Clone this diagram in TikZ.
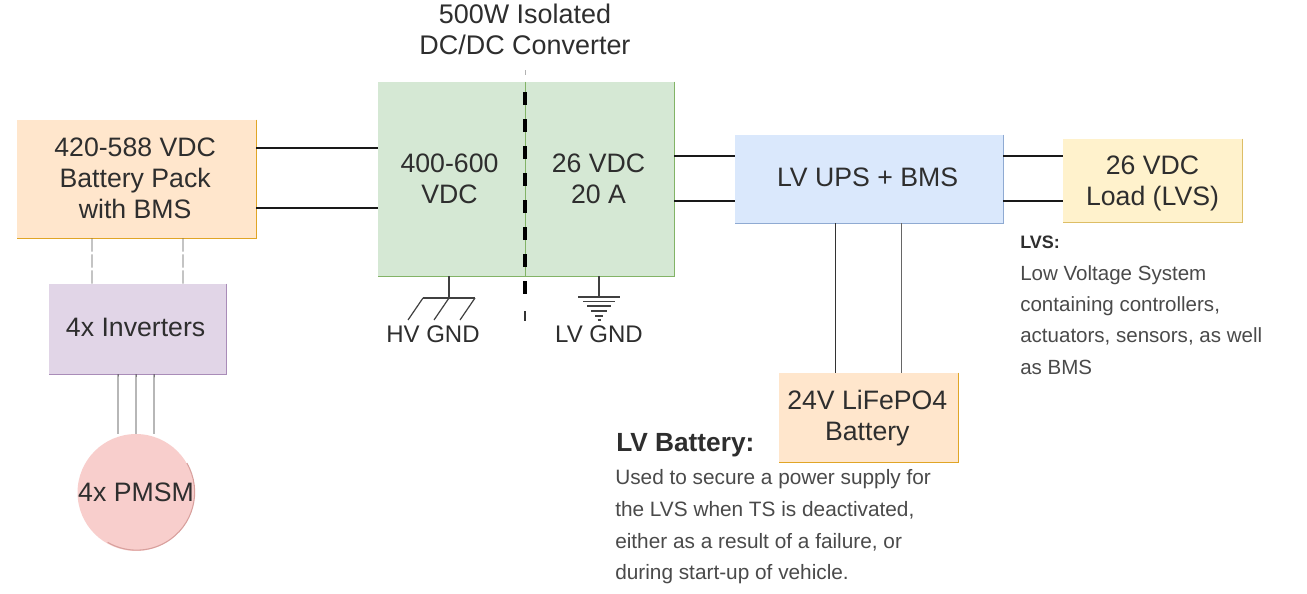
\documentclass[tikz,border=0pt]{standalone}
\usepackage{fontspec}
\setmainfont{Liberation Sans}
\definecolor{ink}{HTML}{2E2E2E}
\definecolor{note}{HTML}{4A4A4A}
\definecolor{orangefill}{HTML}{FFE6CC}
\definecolor{orangeline}{HTML}{E0A526}
\definecolor{greenfill}{HTML}{D5E8D4}
\definecolor{greenline}{HTML}{82B366}
\definecolor{bluefill}{HTML}{DAE8FC}
\definecolor{blueline}{HTML}{8FAAD2}
\definecolor{yellowfill}{HTML}{FFF2CC}
\definecolor{yellowline}{HTML}{DDBE66}
\definecolor{purplefill}{HTML}{E1D5E7}
\definecolor{purpleline}{HTML}{A98CB8}
\definecolor{redfill}{HTML}{F8CECC}
\definecolor{redline}{HTML}{D8A09D}
\newcommand{\shiftedtext}[3]{\raisebox{#2}[\height][\depth]{\kern#1\begin{tabular}{@{}c@{}}#3\end{tabular}\kern-#1}}
\newcommand{\edgesof}[2]{\draw[#2,line width=1pt] (#1.north east) -- (#1.south east) -- (#1.south west);}
\tikzset{
  x=0.75pt,y=-0.75pt,
  box/.style={fill=#1,inner sep=0pt,text=ink,font=\fontsize{20}{23.25}\selectfont},
  conn/.style={draw=black!90,line width=1pt},
  thinconn/.style={draw=black!80,line width=0.7pt},
  faint/.style={draw=black!65,line width=0.6pt,dash pattern=on 10pt off 2pt},
  gnd/.style={draw=black!75,line width=0.9pt},
  lab/.style={text=ink,font=\fontsize{18}{22}\selectfont,inner sep=0pt},
  smalltxt/.style={text=note,align=left,inner sep=0pt,anchor=north west,font=\fontsize{15.4}{23.5}\selectfont},
}
\begin{document}
\begin{tikzpicture}
\useasboundingbox[fill=white] (0,0) rectangle (1307,593);
% boxes
\node[box=orangefill,minimum width=179.25pt,minimum height=88.5pt] (bat) at (136.5,179) {\shiftedtext{-1pt}{-1.5pt}{420-588 VDC\\Battery Pack\\with BMS}};
\node[box=purplefill,minimum width=132.75pt,minimum height=67.5pt] (inv) at (137.5,329) {\shiftedtext{-1.4pt}{-0.7pt}{4x Inverters}};
\node[circle,fill=redfill,minimum size=87pt,inner sep=0pt,text=ink,font=\fontsize{20}{23.25}\selectfont] (pmsm) at (136,492.5) {4x PMSM};
\node[box=greenfill,minimum width=110.25pt,minimum height=145.5pt] (hv) at (451.5,179) {\shiftedtext{-1.5pt}{-2.2pt}{400-600\\VDC}};
\node[box=greenfill,minimum width=111.75pt,minimum height=145.5pt] (lv) at (599.5,179) {\shiftedtext{-0.7pt}{-2.2pt}{26 VDC\\20 A}};
\node[box=bluefill,minimum width=201pt,minimum height=66pt] (ups) at (869,179) {\shiftedtext{-1.1pt}{-0.7pt}{LV UPS + BMS}};
\node[box=yellowfill,minimum width=134.25pt,minimum height=62.25pt] (load) at (1152.5,180.5) {\shiftedtext{0pt}{-2.7pt}{26 VDC\\Load (LVS)}};
\node[box=orangefill,minimum width=134.25pt,minimum height=66.75pt] (lfp) at (868.5,417.5) {\shiftedtext{-0.9pt}{-0.9pt}{24V LiFePO4\\Battery}};
% visible edges (right and bottom only)
\edgesof{bat}{orangeline}
\edgesof{inv}{purpleline}
\edgesof{hv}{greenline}
\edgesof{lv}{greenline}
\edgesof{ups}{blueline}
\edgesof{load}{yellowline}
\edgesof{lfp}{orangeline}
\draw[redline,line width=0.8pt] (pmsm.30) arc[start angle=30,end angle=-120,radius=43.5pt];
% connectors
\draw[conn] ([yshift=23.25pt]bat.east) -- ([yshift=23.25pt]hv.west);
\draw[conn] ([yshift=-21.75pt]bat.east) -- ([yshift=-21.75pt]hv.west);
\draw[conn] ([yshift=17.25pt]lv.east) -- ([yshift=17.25pt]ups.west);
\draw[conn] ([yshift=-16.5pt]lv.east) -- ([yshift=-16.5pt]ups.west);
\draw[conn] ([yshift=17.25pt]ups.east) -- ([yshift=18.375pt]load.west);
\draw[conn] ([yshift=-16.5pt]ups.east) -- ([yshift=-15.375pt]load.west);
\draw[thinconn] ([xshift=-25.5pt]ups.south) -- ([xshift=-25.125pt]lfp.north);
\draw[thinconn,draw=black!60] ([xshift=24pt]ups.south) -- ([xshift=24.375pt]lfp.north);
\draw[faint] ([xshift=-33.4pt]bat.south) -- ([xshift=-34.1pt]inv.north);
\draw[faint] ([xshift=34.9pt]bat.south) -- ([xshift=34.1pt]inv.north);
\draw[thinconn] ([xshift=-14.6pt]inv.south) -- ([xshift=-13.5pt]pmsm.north);
\draw[thinconn] ([xshift=-1.1pt]inv.south) -- (pmsm.north);
\draw[thinconn] ([xshift=12.4pt]inv.south) -- ([xshift=13.5pt]pmsm.north);
% isolation barrier
\coordinate (bartop) at (525,70);
\coordinate (barcut) at (525,75);
\coordinate (barstart) at (525,92);
\coordinate (barend) at (525,294);
\coordinate (tailtop) at (525,311);
\coordinate (tailbot) at (525,321);
\draw[black!30,line width=0.5pt] (bartop) -- (barcut);
\draw[black,line width=3pt,dash pattern=on 9.75pt off 10.5pt] (barstart) -- (barend);
\draw[black!80,line width=1.2pt] (tailtop) -- (tailbot);
% grounds
\coordinate (hvg) at (449,298);
\coordinate (lvg) at (599,297);
\path (hv.south -| hvg) coordinate (hvs);
\path (lv.south -| lvg) coordinate (lvs);
\draw[gnd] (hvs) -- (hvg);
\draw[gnd] (423,298) -- (475,298);
\draw[gnd] (423,298) -- (408,320) (449,298) -- (434,320) (475,298) -- (460,320);
\draw[gnd] (lvs) -- (lvg);
\draw[gnd] (578,297) -- (620,297) (583,301.5) -- (615,301.5) (587,306) -- (611,306) (591,311) -- (607,311) (595,316) -- (603,316) (597.5,320) -- (600.5,320);
% labels
\node[text=ink,align=center,inner sep=0pt,font=\fontsize{20.2}{23.3}\selectfont] (title) at (525,29.5) {500W Isolated\\DC/DC Converter};
\node[lab] (hvl) at (433,334) {HV GND};
\node[lab] (lvl) at (599,334) {LV GND};
\node[text=ink,anchor=west,inner sep=0pt,font=\bfseries\fontsize{13.5}{16}\selectfont] (lvsh) at (1020,242) {LVS:};
\node[smalltxt] (lvst) at (1020,265) {Low Voltage System\\containing controllers,\\actuators, sensors, as well\\as BMS};
\node[text=ink,anchor=west,inner sep=0pt,font=\bfseries\fontsize{19.7}{23}\selectfont] (lvbh) at (616,445.5) {LV Battery:};
\node[smalltxt,font=\fontsize{15.6}{23.9}\selectfont] (lvbt) at (615,469) {Used to secure a power supply for\\the LVS when TS is deactivated,\\either as a result of a failure, or\\during start-up of vehicle.};
\end{tikzpicture}
\end{document}
